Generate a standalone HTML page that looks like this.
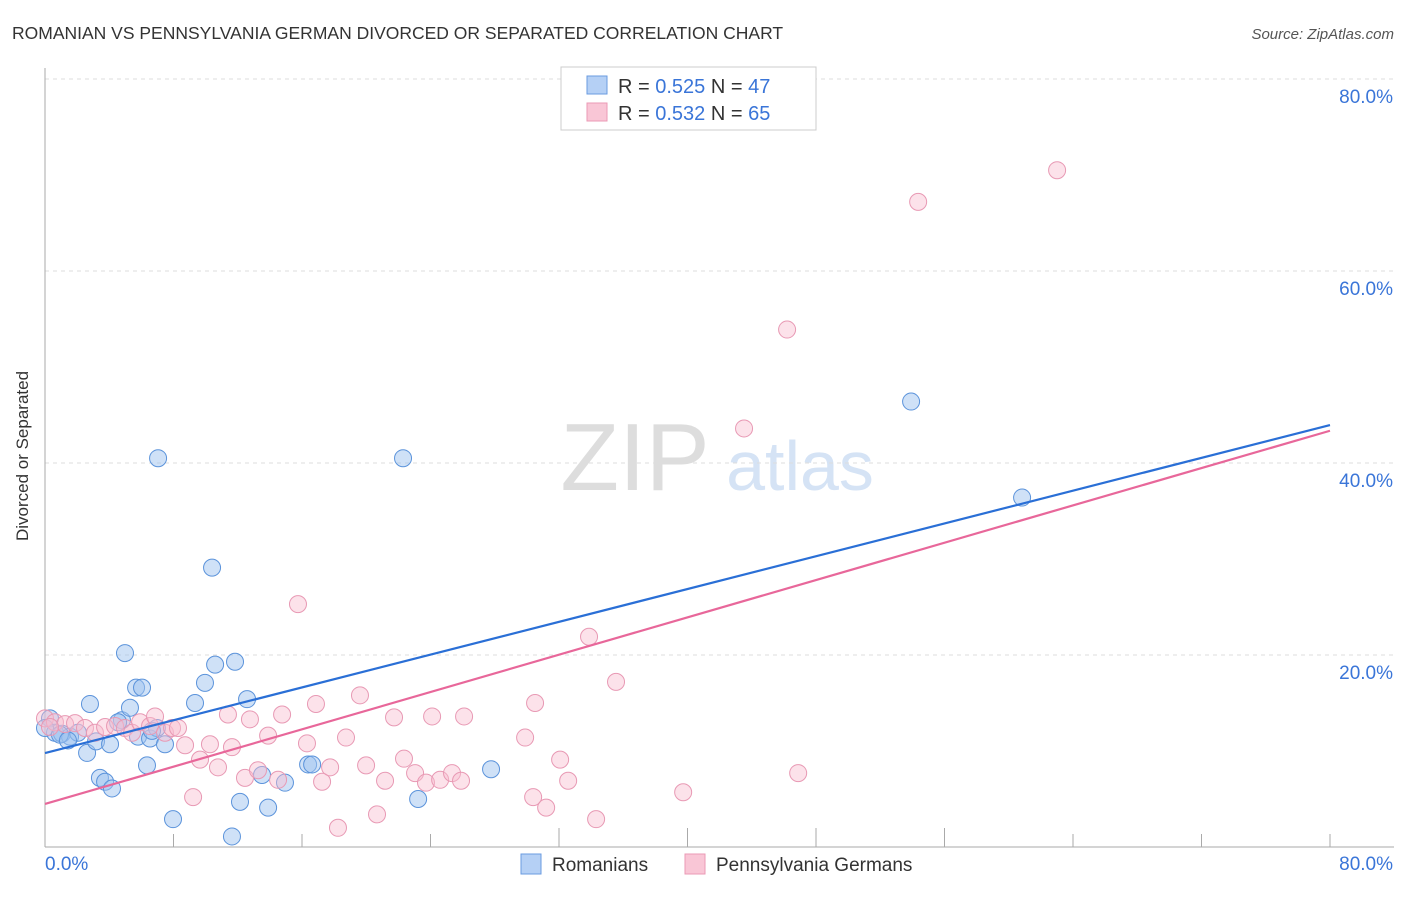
<!DOCTYPE html>
<html><head><meta charset="utf-8"><style>
body{margin:0;background:#fff;font-family:"Liberation Sans",sans-serif}
svg text{font-family:"Liberation Sans",sans-serif}
</style></head><body>
<svg id="c" width="1406" height="892" xmlns="http://www.w3.org/2000/svg">
<text x="12" y="39" font-size="17.5" fill="#333">ROMANIAN VS PENNSYLVANIA GERMAN DIVORCED OR SEPARATED CORRELATION CHART</text>
<text x="1394" y="39" font-size="15" fill="#555" font-style="italic" text-anchor="end">Source: ZipAtlas.com</text>
<text x="28" y="456" font-size="17" fill="#333" text-anchor="middle" transform="rotate(-90 28 456)">Divorced or Separated</text>
<text x="635" y="490" font-size="96" fill="#ddd" font-family="Liberation Serif" text-anchor="middle">ZIP</text>
<text x="800" y="490" font-size="70" fill="#d5e3f5" text-anchor="middle">atlas</text>
<g id="grid"></g><g id="pts"></g><g id="lines"></g>
<g>
<rect x="561" y="67" width="255" height="63" fill="#fff" stroke="#ccc"/>
<rect x="587" y="76" width="20" height="18" fill="#b5d0f5" stroke="#6a9be0"/>
<text x="618" y="93" font-size="20" fill="#333">R = <tspan fill="#3a75d8">0.525</tspan>    N = <tspan fill="#3a75d8">47</tspan></text>
<rect x="587" y="103" width="20" height="18" fill="#f9c6d6" stroke="#eb9ab5"/>
<text x="618" y="120" font-size="20" fill="#333">R = <tspan fill="#3a75d8">0.532</tspan>    N = <tspan fill="#3a75d8">65</tspan></text>
</g>
<g>
<rect x="521" y="854" width="20" height="20" fill="#b5d0f5" stroke="#6a9be0"/>
<text x="552" y="871" font-size="19" fill="#333">Romanians</text>
<rect x="685" y="854" width="20" height="20" fill="#f9c6d6" stroke="#eb9ab5"/>
<text x="716" y="871" font-size="19" fill="#333">Pennsylvania Germans</text>
</g>
</svg>
<script>
const xTicks=[0,80];
const yTicks=[20,40,60,80];
const blueX=[0.31,0.62,1.06,1.56,2.05,2.80,2.62,3.18,3.42,3.74,4.17,4.05,4.79,4.98,5.29,5.67,6.04,5.79,6.35,6.54,7.04,6.97,7.47,7.97,9.34,9.96,10.40,10.59,11.83,12.14,11.64,12.58,13.51,13.89,14.94,16.38,16.63,22.29,23.23,27.77,53.92,60.83,0,0.93,4.55,6.66,1.43];
const blueY=[13.4,11.9,11.8,11.5,11.9,14.9,9.8,11.0,7.2,6.8,6.1,10.7,13.2,20.2,14.5,16.6,16.6,11.5,8.5,11.3,40.5,12.4,10.7,2.9,15.0,17.1,29.1,19.0,19.3,4.7,1.1,15.4,7.5,4.1,6.7,8.6,8.6,40.5,5.0,8.1,46.4,36.4,12.4,11.7,13.0,12.1,11.1];
const pinkX=[0,0.62,1.25,1.87,2.49,3.11,3.74,4.36,4.98,5.42,5.92,6.54,6.85,7.47,7.91,8.28,8.72,9.22,9.65,10.27,10.77,11.39,11.64,12.45,12.76,13.26,13.89,14.51,14.76,15.75,16.31,16.87,17.25,17.75,18.24,18.74,19.61,19.99,20.67,21.17,21.73,22.35,23.04,23.72,24.10,24.60,25.34,25.90,26.09,29.89,30.39,30.51,31.20,32.07,32.57,33.87,34.31,35.55,39.73,43.52,46.20,46.89,54.36,63.01,0.31];
const pinkY=[13.4,13.0,12.8,12.9,12.4,11.9,12.5,12.6,12.4,11.9,13.0,12.6,13.6,11.9,12.4,12.4,10.6,5.2,9.1,10.7,8.3,13.8,10.4,7.2,13.3,8.0,11.6,7.0,13.8,25.3,10.8,14.9,6.8,8.3,2.0,11.4,15.8,8.5,3.4,6.9,13.5,9.2,7.7,6.7,13.6,7.0,7.7,6.9,13.6,11.4,5.2,15.0,4.1,9.1,6.9,21.9,2.9,17.2,5.7,43.6,53.9,7.7,67.2,70.5,12.5];
const blueFit=[9.79,0.427];
const pinkFit=[4.48,0.486];
const sx=v=>45+v*(1330-45)/80;
const sy=v=>847-v*9.6;
const NS='http://www.w3.org/2000/svg';
function mk(t,a,p){const e=document.createElementNS(NS,t);for(const k in a)e.setAttribute(k,a[k]);p.appendChild(e);return e;}
const grid=document.getElementById('grid');
yTicks.forEach(v=>{
 const l=mk('line',{x1:45,x2:1394,y1:sy(v),y2:sy(v),stroke:'#ddd','stroke-dasharray':'4,4'},grid);
 
 
 const t=mk('text',{x:1393,y:sy(v)+24,'font-size':19,fill:'#3a75d8','text-anchor':'end'},grid);
 t.textContent=v.toFixed(1)+'%';
 
 
});
const ax=mk('line',{x1:45,x2:45,y1:68,y2:847,stroke:'#aaa'},grid);


const bx=mk('line',{x1:45,x2:1394,y1:847,y2:847,stroke:'#aaa'},grid);


for(let i=1;i<=10;i++){
 const tk=mk('line',{x1:sx(i*8),x2:sx(i*8),y1:(i>=4&&i<=7)?828:834,y2:847,stroke:'#aaa'},grid);
 
 
}
xTicks.forEach((v,i)=>{
 const t=mk('text',{x:i?1393:45,y:870,'font-size':19,fill:'#3a75d8','text-anchor':i?'end':'start'},grid);
 t.textContent=v.toFixed(1)+'%';
 
 
});
const pts=document.getElementById('pts');
blueX.forEach((x,i)=>{
 const c=mk('circle',{cx:sx(x),cy:sy(blueY[i]),r:8.5,fill:'rgba(160,196,240,0.5)',stroke:'#5b93db','stroke-width':1},pts);
 
 
});
pinkX.forEach((x,i)=>{
 const c=mk('circle',{cx:sx(x),cy:sy(pinkY[i]),r:8.5,fill:'rgba(248,190,208,0.45)',stroke:'#e899b4','stroke-width':1},pts);
 
 
});
const ln=document.getElementById('lines');
const b=mk('line',{x1:sx(0),y1:sy(blueFit[0]),x2:sx(80),y2:sy(blueFit[0]+80*blueFit[1]),stroke:'#2a6fd6','stroke-width':2.2},ln);


const p=mk('line',{x1:sx(0),y1:sy(pinkFit[0]),x2:sx(80),y2:sy(pinkFit[0]+80*pinkFit[1]),stroke:'#e8679a','stroke-width':2.2},ln);


</script>
</body></html>
